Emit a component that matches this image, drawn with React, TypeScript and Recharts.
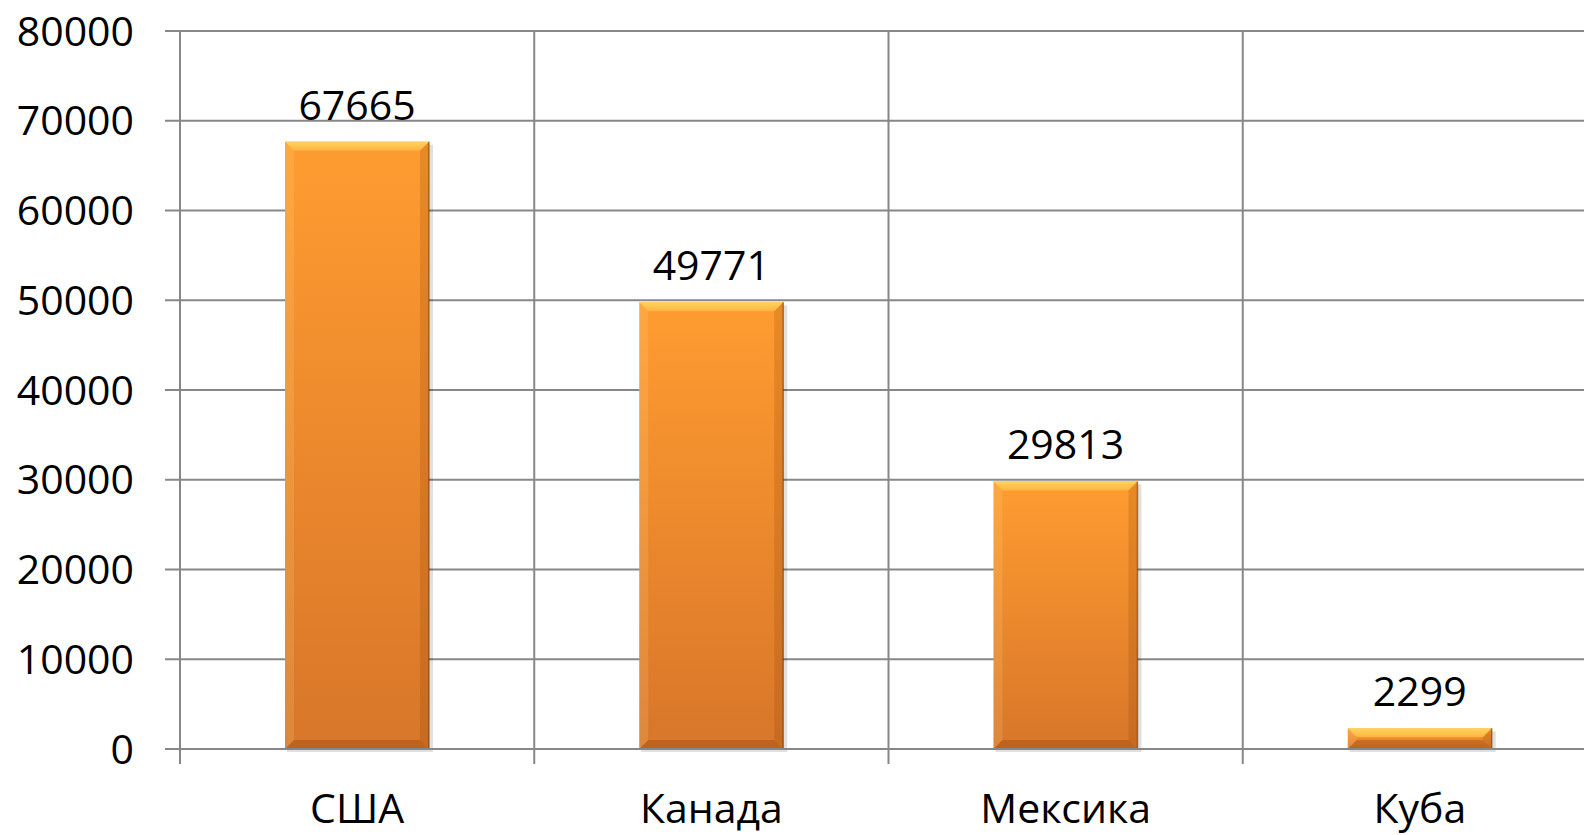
import {
  BarChart,
  Bar,
  XAxis,
  YAxis,
  CartesianGrid,
  LabelList,
} from 'recharts'

const categories = ['США', 'Канада', 'Мексика', 'Куба']
const values = [67665, 49771, 29813, 2299]
const yTicks = [0, 10000, 20000, 30000, 40000, 50000, 60000, 70000, 80000]

const data = categories.map((name, i) => ({ name, value: values[i] }))

const GRID = '#878787'
const FONT = 41
const CHART_W = 1600
const Y_AXIS_W = 180
const RIGHT = 3
const TICK_SIZE = 15
const TICK_MARGIN = 30

// category label plus the tick mark on the left boundary of its band
function CategoryTick(props: any) {
  const { x, y, payload } = props
  const half = payload?.offset || (CHART_W - Y_AXIS_W - RIGHT) / categories.length / 2
  const axisY = y - TICK_SIZE - TICK_MARGIN
  return (
    <g>
      <line x1={x - half} x2={x - half} y1={axisY} y2={axisY + TICK_SIZE} stroke={GRID} strokeWidth={2} />
      <text x={x} y={y} dy="0.71em" textAnchor="middle" fontSize={FONT} fill="#000">
        {payload.value}
      </text>
    </g>
  )
}

// bar with Excel-like bevel
function BevelBar(props: any) {
  const { x, y, width: w, height: h } = props
  if (!h || h <= 0) return null
  const b = Math.min(9, h / 2, w / 2)
  return (
    <g>
      <rect x={x + 2} y={y + 3} width={w + 2} height={h} fill="rgba(0,0,0,0.12)" />
      <rect x={x} y={y} width={w} height={h} fill="url(#barFill)" />
      <polygon
        points={`${x},${y} ${x + w},${y} ${x + w - b},${y + b} ${x + b},${y + b}`}
        fill="url(#bevelTop)"
      />
      <polygon
        points={`${x},${y} ${x + b},${y + b} ${x + b},${y + h - b} ${x},${y + h}`}
        fill="rgba(255,235,170,0.15)"
      />
      <polygon
        points={`${x + w},${y} ${x + w},${y + h} ${x + w - b},${y + h - b} ${x + w - b},${y + b}`}
        fill="rgba(120,55,0,0.18)"
      />
      <polygon
        points={`${x},${y + h} ${x + b},${y + h - b} ${x + w - b},${y + h - b} ${x + w},${y + h}`}
        fill="rgba(110,45,0,0.25)"
      />
      <line x1={x + w} y1={y} x2={x + w} y2={y + h} stroke="rgba(90,40,0,0.5)" strokeWidth={1.5} />
    </g>
  )
}

export default function App() {
  return (
    <div
      style={{
        position: 'absolute',
        left: 0,
        top: 0,
        width: 1584,
        height: 835,
        overflow: 'hidden',
        background: '#fff',
        fontFamily: '"Open Sans", sans-serif',
      }}
    >
      <BarChart width={CHART_W} height={835} data={data} margin={{ top: 31, right: RIGHT, left: 0, bottom: 0 }}>
        <defs>
          <linearGradient id="barFill" x1="0" y1="0" x2="0" y2="1">
            <stop offset="0%" stopColor="#FF9C30" />
            <stop offset="100%" stopColor="#D8762A" />
          </linearGradient>
          <linearGradient id="bevelTop" x1="0" y1="0" x2="0" y2="1">
            <stop offset="0%" stopColor="#FFD45E" />
            <stop offset="100%" stopColor="#FFB340" />
          </linearGradient>
        </defs>
        <CartesianGrid
          stroke={GRID}
          strokeWidth={2}
          verticalCoordinatesGenerator={({ offset }: any) =>
            categories.map((_, i) => offset.left + (i * offset.width) / categories.length)
          }
        />
        <XAxis
          dataKey="name"
          height={86}
          axisLine={{ stroke: GRID, strokeWidth: 2 }}
          tickLine={false}
          tickSize={TICK_SIZE}
          tickMargin={TICK_MARGIN}
          tick={<CategoryTick />}
        />
        <YAxis
          width={Y_AXIS_W}
          domain={[0, 80000]}
          ticks={yTicks}
          interval={0}
          tickSize={TICK_SIZE}
          tickMargin={31}
          axisLine={{ stroke: GRID, strokeWidth: 2 }}
          tickLine={{ stroke: GRID, strokeWidth: 2 }}
          tick={{ fontSize: FONT, fill: '#000' }}
        />
        <Bar dataKey="value" barSize={144} shape={<BevelBar />} isAnimationActive={false}>
          <LabelList dataKey="value" position="top" offset={22} style={{ fontSize: FONT, fill: '#000' }} />
        </Bar>
      </BarChart>
    </div>
  )
}
